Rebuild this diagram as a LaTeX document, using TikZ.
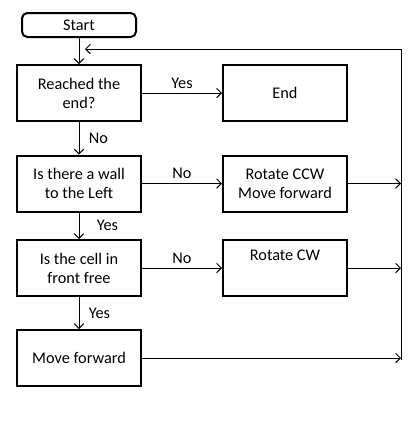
\documentclass[tikz,border=0pt]{standalone}
\usepackage{fontspec}
\setmainfont{Carlito}
\usetikzlibrary{arrows.meta}
\begin{document}
\begin{tikzpicture}[x=0.75pt,y=-0.75pt,
  every node/.style={font=\fontsize{12.2}{14.25}\selectfont},
  box/.style={draw,line width=1.5pt,minimum width=93pt,minimum height=42pt,align=center,inner sep=0pt},
  startbox/.style={draw,line width=1.5pt,rounded corners=4pt,minimum width=85.5pt,minimum height=18pt,inner sep=0pt},
  conn/.style={line width=0.75pt,-{Straight Barb[length=3.5pt,width=7pt]}},
  lbl/.style={inner sep=1pt}]
\useasboundingbox (0,0) rectangle (419,443);
\node[startbox] (start) at (79,25) {Start};
\node[box] (reach) at (79,93) {Reached the\\end?};
\node[box] (end) at (285,93) {End};
\node[box] (wall) at (79,183.5) {Is there a wall\\to the Left};
\node[box] (ccw) at (285,183.5) {Rotate CCW\\Move forward};
\node[box] (cell) at (79,268) {Is the cell in\\front free};
\node[box] (cw) at (285,268) {Rotate CW\\\strut};
\node[box] (mf) at (79,358) {Move forward};
\coordinate (rt) at (401,49);
\coordinate (rb) at (401,360);
\coordinate (ret) at (85,49);
\draw[conn] (start.south -| reach) -- (reach.north);
\draw[conn] (reach.east) -- node[lbl,above=2pt] (y1) {Yes} (end.west);
\draw[conn] (reach.south) -- node[lbl,right=6pt] (n1) {No} (wall.north);
\draw[conn] (wall.east) -- node[lbl,above=2pt] (n2) {No} (ccw.west);
\draw[conn] (wall.south) -- node[lbl,right=12pt] (y2) {Yes} (cell.north);
\draw[conn] (cell.east) -- node[lbl,above=2pt] (n3) {No} (cw.west);
\draw[conn] (cell.south) -- node[lbl,right=6pt] (y3) {Yes} (mf.north);
\draw[conn] (ccw.east) -- (ccw.east -| rt);
\draw[conn] (cw.east) -- (cw.east -| rt);
\draw[conn] (mf.east) -- (mf.east -| rt);
\draw[conn] (rb) -- (rt) -- (ret);
\end{tikzpicture}
\end{document}
